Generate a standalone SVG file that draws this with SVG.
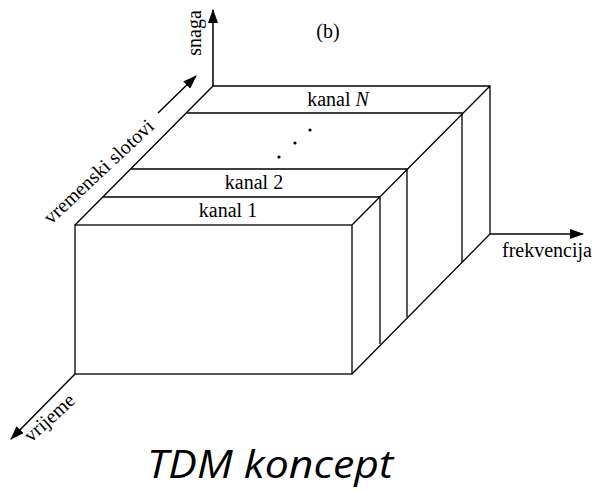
<svg xmlns="http://www.w3.org/2000/svg" width="596" height="491" viewBox="0 0 596 491">
<style>
.ln{stroke:#000;stroke-width:1.3;fill:none}
.ax{stroke:#000;stroke-width:1.5;fill:none}
.t{font-size:20px;fill:#000}
.title{font-style:italic;font-size:38px;fill:#000}
</style>
<defs>
<marker id="ah" markerUnits="userSpaceOnUse" markerWidth="14" markerHeight="10" refX="13" refY="5" orient="auto">
<path d="M0,0 L14,5 L0,10 z" fill="#000"/>
</marker>
</defs>
<rect width="596" height="491" fill="#fff"/>
<g id="connectors">
<line class="ax" x1="213" y1="86" x2="213" y2="10" marker-end="url(#ah)"/>
<line class="ax" x1="490" y1="234" x2="583" y2="234" marker-end="url(#ah)"/>
<line class="ax" x1="75" y1="374" x2="11" y2="439" marker-end="url(#ah)"/>
<line class="ax" x1="158" y1="113" x2="196" y2="76" marker-end="url(#ah)"/>
</g>
<g id="box">
<rect class="ln" x="75" y="225" width="277" height="149"/>
<path class="ln" d="M75,225 L213,86 L490,86 L490,234 L352,374 M352,225 L490,86"/>
</g>
<g id="kanalN" font-family="Liberation Serif, DejaVu Serif, serif">
<path class="ln" d="M187,113 L462,113 L462,262"/>
<text class="t" x="338" y="106" text-anchor="middle">kanal <tspan font-style="italic">N</tspan></text>
</g>
<g id="dots">
<circle cx="310" cy="130" r="1.6" fill="#000"/>
<circle cx="295" cy="143" r="1.6" fill="#000"/>
<circle cx="279" cy="157" r="1.6" fill="#000"/>
</g>
<g id="kanal2" font-family="Liberation Serif, DejaVu Serif, serif">
<path class="ln" d="M131,169 L407,169 L407,317"/>
<text class="t" x="254" y="189" text-anchor="middle">kanal 2</text>
</g>
<g id="kanal1" font-family="Liberation Serif, DejaVu Serif, serif">
<path class="ln" d="M103,197 L380,197 L380,344"/>
<text class="t" x="228" y="217" text-anchor="middle">kanal 1</text>
</g>
<g id="labels" font-family="Liberation Serif, DejaVu Serif, serif">
<text class="t" x="328" y="38" text-anchor="middle" font-size="23">(b)</text>
<text class="t" transform="translate(201,33) rotate(-90)" text-anchor="middle">snaga</text>
<text class="t" font-size="21" transform="translate(51,225) rotate(-43)">vremenski slotovi</text>
<text class="t" x="502" y="257">frekvencija</text>
<text class="t" transform="translate(31,443) rotate(-42)">vrijeme</text>
<text class="title" font-family="Open Sans, Liberation Sans, sans-serif" x="147" y="478" textLength="246" lengthAdjust="spacingAndGlyphs">TDM koncept</text>
</g>
</svg>
